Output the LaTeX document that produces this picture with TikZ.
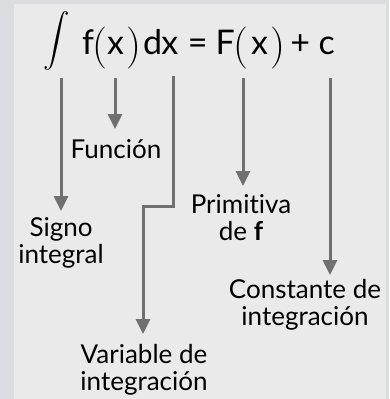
\documentclass[tikz,border=0pt]{standalone}
\usepackage{fontspec}
\setmainfont{Lato}[Ligatures={NoCommon}]
\newfontfamily\lmfont{Latin Modern Roman}
\usetikzlibrary{arrows.meta}
\definecolor{outerbg}{RGB}{220,221,224}
\definecolor{panelbg}{RGB}{234,234,234}
\definecolor{arrowgray}{RGB}{112,112,112}
% place a glyph centred at a given offset, taking no width
\newcommand\gat[2]{\makebox[0pt][l]{\hspace*{#1pt}\makebox[0pt][c]{#2}}}
\newcommand\bigpar[1]{\raisebox{-4.5pt}{\lmfont\fontsize{42}{44}\selectfont #1}}
\tikzset{
  eqtxt/.style={inner sep=0pt, anchor=base west, font=\fontsize{34}{40}\selectfont},
  lbl/.style={inner sep=0pt, anchor=base, align=center, font=\fontsize{26}{27}\selectfont},
  arr/.style={draw=arrowgray, line width=3pt, -{Triangle[width=14pt,length=15pt]}}
}
\begin{document}
\begin{tikzpicture}[x=1pt,y=-1pt]
\useasboundingbox (0,0) rectangle (389,399);
\fill[outerbg] (0,0) rectangle (389,399);
\fill[panelbg] (14,4) rectangle (386,399);
% equation
\node[inner sep=0pt, anchor=center] (int) at (57,41) {\scalebox{2.65}{$\displaystyle\int$}};
\node[eqtxt] (eqn) at (78,54) {\gat{10}{f}\gat{22}{\bigpar(}\gat{37.5}{x}\gat{56}{\bigpar)}\gat{74.5}{d}\gat{91.5}{x}\gat{119.5}{=}\gat{147}{F}\gat{163}{\bigpar(}\gat{181.5}{x}\gat{199.5}{\bigpar)}\gat{222}{+}\gat{248.5}{c}\hspace*{256pt}};
% labels (base anchor = baseline of last line)
\node[lbl] (funcion) at (116,158) {Función};
\node[lbl] (signo) at (61,263) {Signo\\integral};
\node[lbl] (primitiva) at (241,240) {Primitiva\\de \textbf{f}};
\node[lbl] (constante) at (305,325) {Constante de\\integración};
\node[lbl] (variable) at (144,390) {Variable de\\integración};
% connector ends
\coordinate (s1) at (61,78);  \coordinate (t1) at (61,211);
\coordinate (s2) at (115,78); \coordinate (t2) at (115,129);
\coordinate (s3) at (173,76); \coordinate (b3) at (173,206); \coordinate (c3) at (143,206); \coordinate (t3) at (143,334);
\coordinate (s4) at (243,78); \coordinate (t4) at (243,186);
\coordinate (s5) at (330,78); \coordinate (t5) at (330,275);
\draw[arr] (s1) -- (t1);
\draw[arr] (s2) -- (t2);
\draw[arr] (s3) -- (b3) -- (c3) -- (t3);
\draw[arr] (s4) -- (t4);
\draw[arr] (s5) -- (t5);
\end{tikzpicture}
\end{document}
